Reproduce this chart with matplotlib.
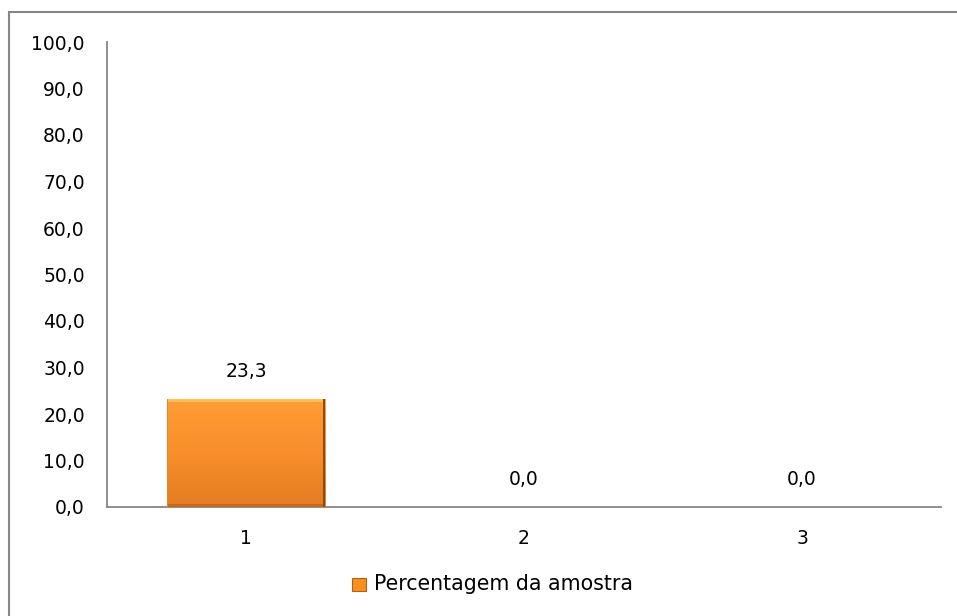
import numpy as np
import matplotlib.pyplot as plt
from matplotlib.patches import Rectangle
from matplotlib.colors import LinearSegmentedColormap

categorias = ['1', '2', '3']
percentagem = [23.3, 0.0, 0.0]
yticks = [0, 10, 20, 30, 40, 50, 60, 70, 80, 90, 100]

W, H = 957, 616
fig = plt.figure(figsize=(W / 100, H / 100), dpi=100)
plt.rcParams['font.family'] = 'DejaVu Sans'

ax = fig.add_axes([107 / W, (H - 507) / H, (941 - 107) / W, (507 - 42) / H])

x = np.arange(len(categorias))
bars = ax.bar(x, percentagem, width=0.57, color='#F7901E', edgecolor='none', zorder=2)

# gradiente laranja com efeito de relevo
grad = LinearSegmentedColormap.from_list('laranja', ['#E27D22', '#F98E2A', '#FF9D35'])
for b in bars:
    h = b.get_height()
    if h <= 0:
        continue
    x0, w = b.get_x(), b.get_width()
    img = np.linspace(0, 1, 256).reshape(-1, 1)
    im = ax.imshow(img, cmap=grad, aspect='auto', origin='lower',
                   extent=(x0, x0 + w, 0, h), zorder=3)
    im.set_clip_path(b)
    ax.add_patch(Rectangle((x0, h * 0.965), w, h * 0.035, color='#FFBE5A', zorder=4, lw=0))
    ax.add_patch(Rectangle((x0, 0), w, h * 0.03, color='#C9681A', zorder=4, lw=0))
    ax.add_patch(Rectangle((x0 + w * 0.985, 0), w * 0.015, h, color='#8A4A10', zorder=4, lw=0))
    ax.add_patch(Rectangle((x0, 0), w * 0.01, h, color='#E8852A', zorder=4, lw=0))

for xi, v in zip(x, percentagem):
    ax.annotate(f'{v:.1f}'.replace('.', ','), (xi, v), xytext=(0, 13),
                textcoords='offset points', ha='center', va='bottom', fontsize=13.5)

ax.set_xlim(-0.5, 2.5)
ax.set_ylim(0, 100)
ax.set_yticks(yticks)
ax.set_yticklabels([f'{t:.1f}'.replace('.', ',') for t in yticks], fontsize=13.5)
ax.set_xticks(x)
ax.set_xticklabels(categorias, fontsize=13.5)
ax.tick_params(axis='both', length=0)
ax.tick_params(axis='y', pad=16)
ax.tick_params(axis='x', pad=16)

for s in ['top', 'right']:
    ax.spines[s].set_visible(False)
for s in ['left', 'bottom']:
    ax.spines[s].set_color('#868686')
    ax.spines[s].set_linewidth(1.3)

# legenda
fig.patches.append(Rectangle((352 / W, (H - 591) / H), 14 / W, 13 / H,
                             transform=fig.transFigure, facecolor='#F7901E',
                             edgecolor='#B0601A', lw=0.8))
fig.text(374 / W, (H - 584) / H, 'Percentagem da amostra', fontsize=14.8, va='center', ha='left')

# moldura do gráfico
fig.patches.append(Rectangle((9 / W, -0.1), 1.2, (H - 12) / H + 0.1,
                             transform=fig.transFigure, facecolor='none',
                             edgecolor='#868686', lw=1.5, clip_on=False))

fig.savefig('out.png', dpi=100)
